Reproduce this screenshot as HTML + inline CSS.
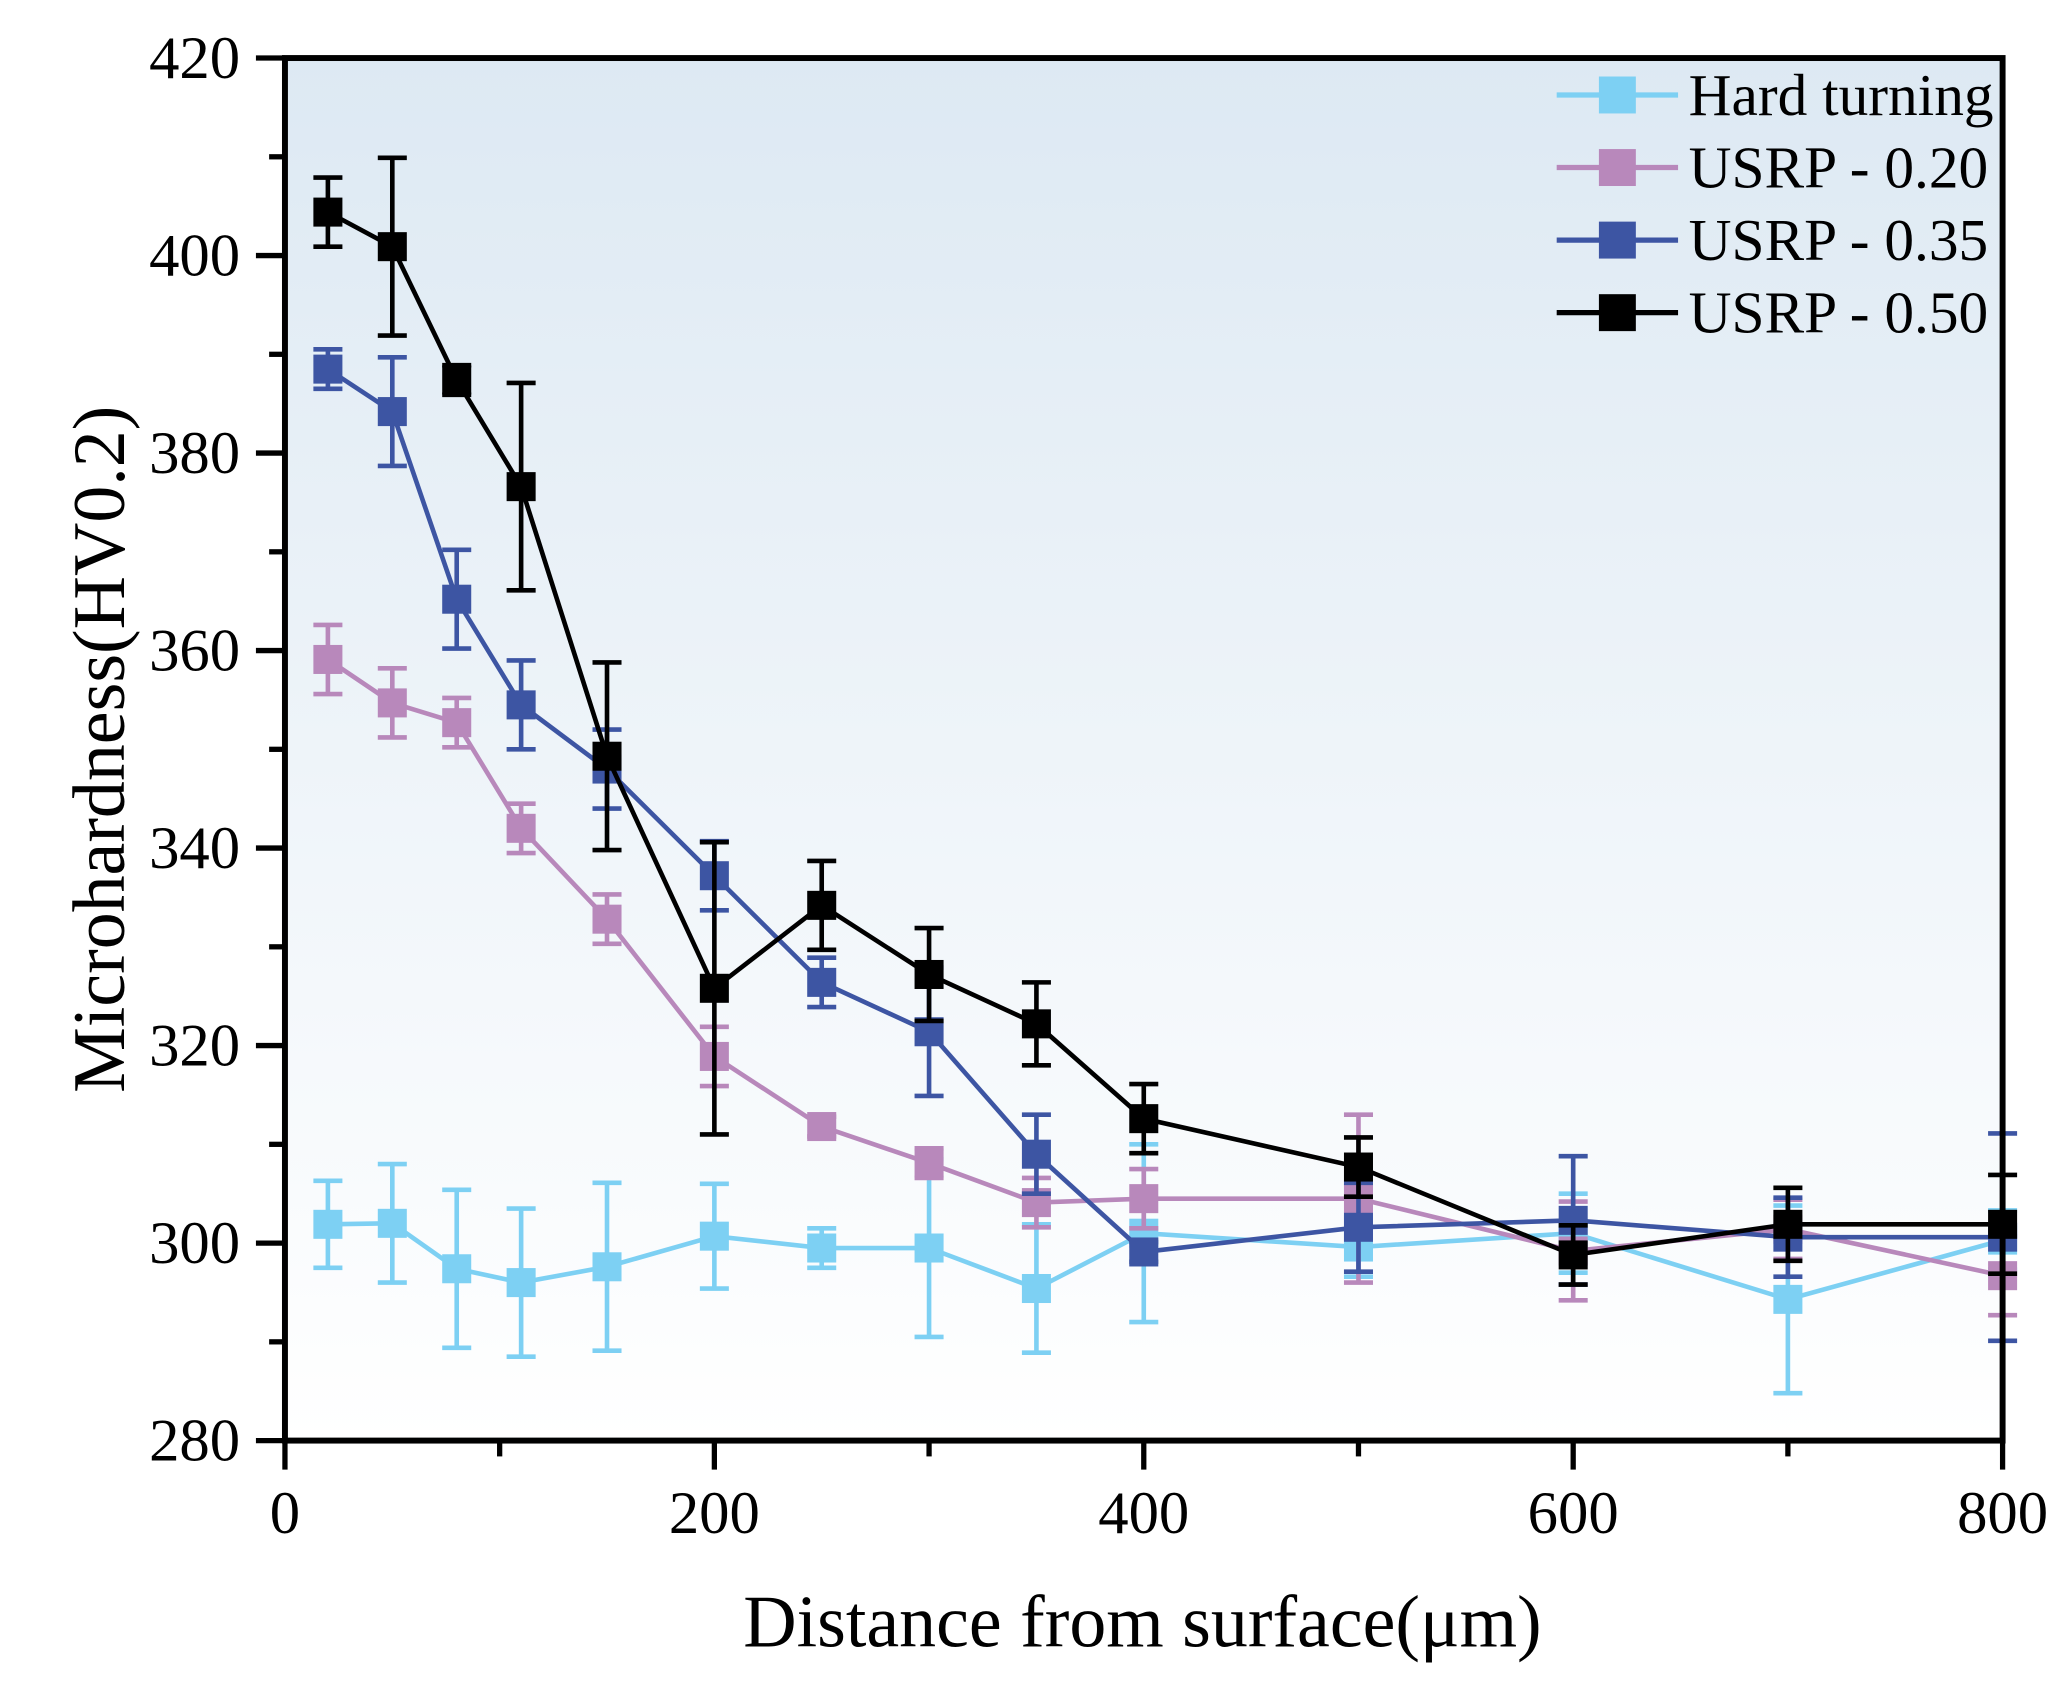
<!DOCTYPE html>
<html><head><meta charset="utf-8"><style>
html,body{margin:0;padding:0;background:#fff;}
svg{display:block;}
text{font-family:"Liberation Serif",serif;fill:#000;}
</style></head><body>
<svg id="chart" width="2058" height="1701" viewBox="0 0 1560 1289.4" preserveAspectRatio="none" xmlns="http://www.w3.org/2000/svg">
<defs><linearGradient id="bg" x1="0" y1="0" x2="0" y2="1">
<stop offset="0" stop-color="#dde9f3"/><stop offset="1" stop-color="#ffffff"/></linearGradient></defs>
<rect x="216" y="44" width="1302" height="1048" fill="url(#bg)"/>
<g id="marks"></g>
<g id="axes"></g>
<text transform="translate(94,568) rotate(-90)" text-anchor="middle" font-size="56">Microhardness(HV0.2)</text>
<text x="866" y="1248" text-anchor="middle" font-size="56">Distance from surface(μm)</text>
<g id="legend"></g>
</svg>
<script>
const xValues=[20,50,80,110,150,200,250,300,350,400,500,600,700,800];
const hardTurning=[301.9,302,297.4,296,297.6,300.7,299.5,299.5,295.4,301,299.6,301,294.3,300.3];
const hardTurningErr=[4.4,6,8,7.5,8.5,5.3,2,9,6.5,9,3,4,9.5,3];
const usrp020=[359.1,354.7,352.7,342,332.8,318.9,311.8,308.1,304.1,304.5,304.5,299.2,301.4,296.7];
const usrp020Err=[3.5,3.5,2.5,2.5,2.5,3,1,1.5,2.5,3,8.5,5,3,4];
const usrp035=[388.5,384.2,365.2,354.5,348,337.2,326.4,321.4,309,299.1,301.6,302.3,300.6,300.6];
const usrp035Err=[2,5.5,5,4.5,4,3.5,2.5,6.5,4,1,4.5,6.5,4,10.5];
const usrp050=[404.4,400.9,387.4,376.6,349.3,325.8,334.2,327.2,322.2,312.6,307.7,298.8,301.9,301.9];
const usrp050Err=[3.5,9,1.5,10.5,9.5,14.8,4.5,4.7,4.2,3.5,3,3,3.7,5];
const yTicks=[280,300,320,340,360,380,400,420];
const xTicks=[0,200,400,600,800];
const seriesNames=["Hard turning","USRP - 0.20","USRP - 0.35","USRP - 0.50"];

const NS="http://www.w3.org/2000/svg";
const X0=216,X1=1518,Y0=1092,Y1=44;
const xs=v=>X0+(v-0)/(800-0)*(X1-X0);
const ys=v=>Y0-(v-280)/(420-280)*(Y0-Y1);
function mk(tag,attrs,parent){const e=document.createElementNS(NS,tag);for(const k in attrs)e.setAttribute(k,attrs[k]);parent.appendChild(e);return e;}

const series=[
 {vals:hardTurning,err:hardTurningErr,color:"#7dd0f3",key:"hard-turning"},
 {vals:usrp020,err:usrp020Err,color:"#b888bb",key:"usrp-020"},
 {vals:usrp035,err:usrp035Err,color:"#3d55a3",key:"usrp-035"},
 {vals:usrp050,err:usrp050Err,color:"#000000",key:"usrp-050"}
];
const marks=document.getElementById('marks');
series.forEach(s=>{
 const g=mk('g',{},marks);
 
 
 const pts=xValues.map((x,i)=>xs(x)+','+ys(s.vals[i])).join(' ');
 const line=mk('polyline',{points:pts,fill:'none',stroke:s.color,'stroke-width':3.5},g);
 
 
 xValues.forEach((x,i)=>{
  const cx=xs(x),hi=ys(s.vals[i]+s.err[i]),lo=ys(s.vals[i]-s.err[i]);
  const eb=mk('path',{d:`M${cx},${hi}V${lo}M${cx-11},${hi}H${cx+11}M${cx-11},${lo}H${cx+11}`,stroke:s.color,'stroke-width':3.5,fill:'none'},g);
  
  
  const m=mk('rect',{x:cx-11,y:ys(s.vals[i])-11,width:22,height:22,fill:s.color},g);
  
  
 });
});

const axes=document.getElementById('axes');
const frame=mk('rect',{x:X0,y:Y1,width:X1-X0,height:Y0-Y1,fill:'none',stroke:'#000','stroke-width':4.5},axes);


yTicks.forEach(v=>{
 const t=mk('line',{x1:X0-22,x2:X0,y1:ys(v),y2:ys(v),stroke:'#000','stroke-width':4},axes);
 
 
 const l=mk('text',{x:X0-34,y:ys(v)+15,'text-anchor':'end','font-size':46},axes);
 l.textContent=v;
 
 
 if(v<420){const mt=mk('line',{x1:X0-12,x2:X0,y1:ys(v+10),y2:ys(v+10),stroke:'#000','stroke-width':4},axes);
 
 }
});
xTicks.forEach(v=>{
 const t=mk('line',{x1:xs(v),x2:xs(v),y1:Y0,y2:Y0+22,stroke:'#000','stroke-width':4},axes);
 
 
 const l=mk('text',{x:xs(v),y:Y0+70,'text-anchor':'middle','font-size':46},axes);
 l.textContent=v;
 
 
 if(v<800){const mt=mk('line',{x1:xs(v+100),x2:xs(v+100),y1:Y0,y2:Y0+12,stroke:'#000','stroke-width':4},axes);
 
 }
});

const legend=document.getElementById('legend');


seriesNames.forEach((n,i)=>{
 const y=72+i*55;
 const g=mk('g',{},legend);
 
 
 mk('line',{x1:1180,x2:1272,y1:y,y2:y,stroke:series[i].color,'stroke-width':4},g);
 mk('rect',{x:1212,y:y-14,width:28,height:28,fill:series[i].color},g);
 const t=mk('text',{x:1280,y:y+15,'font-size':45},g);
 t.textContent=n;
});
</script>
</body></html>
